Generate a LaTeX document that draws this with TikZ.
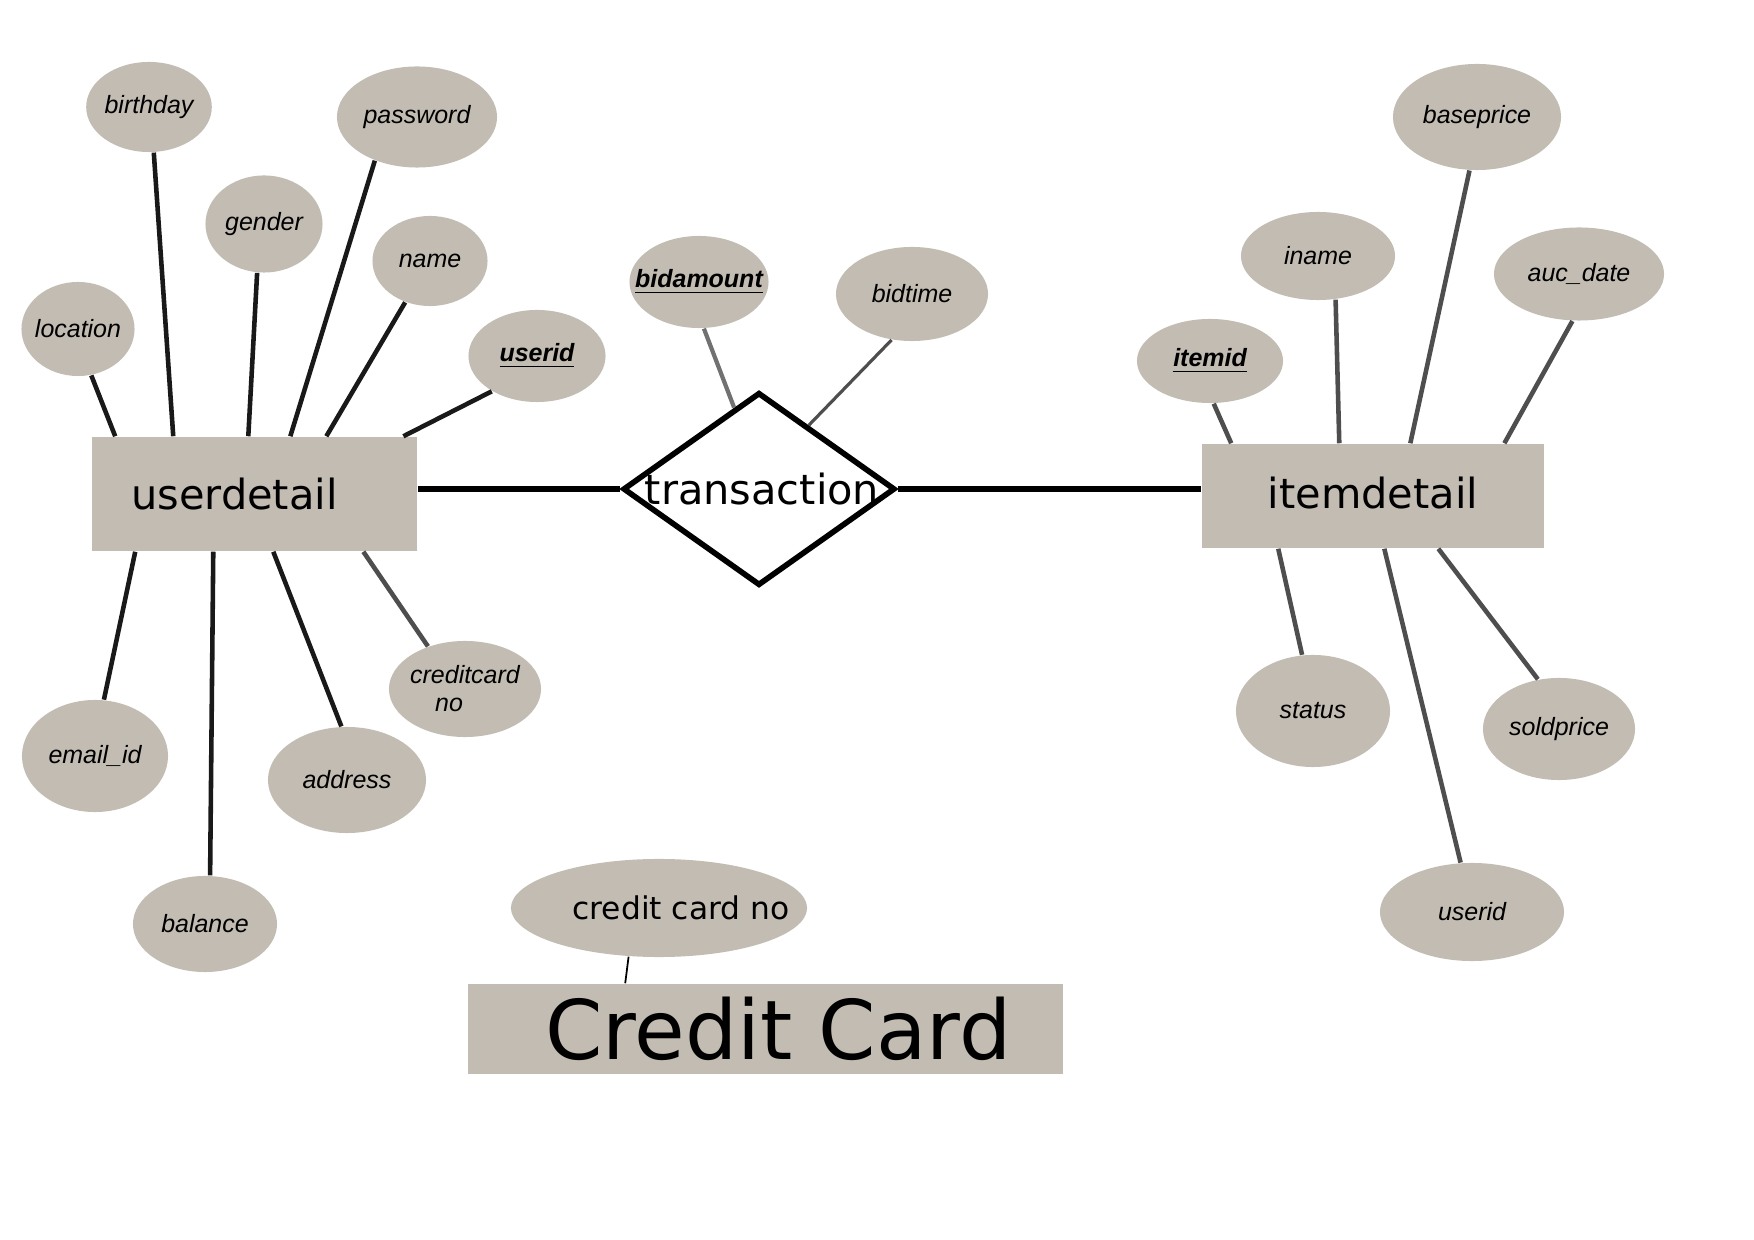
\documentclass[tikz,border=0pt]{standalone}
\usepackage{fontspec}
\setmainfont{DejaVu Sans}
\newfontfamily\attrfont{Liberation Sans}
\usepackage{tikz}
\usetikzlibrary{shapes.geometric}
\definecolor{erfill}{RGB}{194,188,178}
\definecolor{linegray}{RGB}{78,78,78}

\begin{document}
\begin{tikzpicture}[x=0.01cm, y=-0.01cm,
		entity/.style={rectangle, fill=erfill, inner sep=0pt, font=\fontsize{11.8}{14}\selectfont},
		attr/.style={ellipse, fill=erfill, inner sep=0pt, font=\attrfont\itshape\fontsize{7.1}{8.5}\selectfont},
		key/.style={font=\attrfont\bfseries\itshape\fontsize{7.1}{8.5}\selectfont},
		relation/.style={diamond, draw=black, line width=1.6pt, inner sep=0pt, minimum width=2.72cm, minimum height=1.93cm},
		link/.style={line width=1.3pt, black!90},
		glink/.style={line width=1.3pt, linegray}]
		\useasboundingbox (0,0) rectangle (1754,1240);
		% userdetail
		\node[entity, minimum width=3.25cm, minimum height=1.14cm] (userdetail) at (254.5,494) {userdetail\hspace*{0.4cm}};
		\node[attr, minimum width=1.14cm, minimum height=0.90cm] (birthday) at (149,107) {birthday};
		\node[attr, minimum width=1.60cm, minimum height=1.01cm] (password) at (417,117) {password};
		\node[attr, minimum width=1.17cm, minimum height=0.97cm] (gender) at (264,224) {gender};
		\node[attr, minimum width=1.15cm, minimum height=0.90cm] (name) at (430,261) {name};
		\node[attr, minimum width=1.13cm, minimum height=0.94cm, inner xsep=-0.05cm] (location) at (78,329) {location};
		\node[attr, key, minimum width=1.37cm, minimum height=0.92cm] (userid) at (537,356) {\underline{userid}};
		\node[attr, minimum width=1.46cm, minimum height=1.12cm] (emailid) at (95,756) {email\_id};
		\node[attr, minimum width=1.44cm, minimum height=0.96cm] (balance) at (205,924) {balance};
		\node[attr, minimum width=1.58cm, minimum height=1.06cm] (address) at (347,780) {address};
		\node[attr, minimum width=1.52cm, minimum height=0.96cm, inner xsep=-0.03cm, align=left, font=\attrfont\itshape\fontsize{7.1}{8}\selectfont] (ccno) at (465,689) {creditcard\\\hspace*{1em}no};
		\draw[link] (location.-74) -- ([xshift=0.24cm]userdetail.north west);
		\draw[link] (birthday.-84) -- ([xshift=0.82cm]userdetail.north west);
		\draw[link] (gender.-98) -- ([xshift=1.57cm]userdetail.north west);
		\draw[link] (password.-134) -- ([xshift=1.99cm]userdetail.north west);
		\draw[link] (name.-121) -- ([xshift=2.35cm]userdetail.north west);
		\draw[link] (userid.-142) -- ([xshift=3.12cm]userdetail.north west);
		\draw[link] (emailid.81) -- ([xshift=0.44cm]userdetail.south west);
		\draw[link] (balance.84) -- ([xshift=1.22cm]userdetail.south west);
		\draw[link] (address.96) -- ([xshift=1.82cm]userdetail.south west);
		\draw[glink] (ccno.131) -- ([xshift=2.72cm]userdetail.south west);
		% transaction
		\node[relation] (transaction) at (759,489) {};
		\node[font=\fontsize{11.8}{14}\selectfont, inner sep=0pt] (transtxt) at (762,489) {transaction};
		\node[attr, key, minimum width=1.39cm, minimum height=0.92cm, inner xsep=-0.16cm] (bidamount) at (699,282) {\underline{bidamount}};
		\node[attr, minimum width=1.52cm, minimum height=0.94cm] (bidtime) at (912,294) {bidtime};
		\draw[glink, line width=1.2pt, linegray!80] (bidamount.-84) -- (transaction.107);
		\draw[glink, line width=0.9pt] (bidtime.-114) -- (transaction.52);
		\draw[line width=1.6pt] (userdetail.east |- transaction.west) -- (transaction.west);
		% itemdetail
		\node[entity, minimum width=3.42cm, minimum height=1.04cm] (itemdetail) at (1373,496) {\raisebox{0.06cm}{itemdetail}};
		\node[attr, key, minimum width=1.46cm, minimum height=0.84cm] (itemid) at (1210,361) {\underline{itemid}};
		\node[attr, minimum width=1.54cm, minimum height=0.88cm] (iname) at (1318,256) {iname};
		\node[attr, minimum width=1.68cm, minimum height=1.06cm] (baseprice) at (1477,117) {baseprice};
		\node[attr, minimum width=1.70cm, minimum height=0.93cm] (aucdate) at (1579,274) {auc\_date};
		\node[attr, minimum width=1.54cm, minimum height=1.12cm] (status) at (1313,711) {status};
		\node[attr, minimum width=1.52cm, minimum height=1.02cm] (soldprice) at (1559,729) {soldprice};
		\node[attr, minimum width=1.84cm, minimum height=0.98cm] (useridb) at (1472,912) {userid};
		\draw[line width=1.6pt] (transaction.east) -- (itemdetail.west |- transaction.east);
		\draw[glink] (itemid.-85) -- ([xshift=0.30cm]itemdetail.north west);
		\draw[glink] (iname.-68) -- ([xshift=1.38cm]itemdetail.north west);
		\draw[glink] (baseprice.-98) -- ([xshift=2.09cm]itemdetail.north west);
		\draw[glink] (aucdate.-98) -- ([xshift=3.03cm]itemdetail.north west);
		\draw[glink] (status.101) -- ([xshift=0.77cm]itemdetail.south west);
		\draw[glink] (useridb.103) -- ([xshift=1.83cm]itemdetail.south west);
		\draw[glink] (soldprice.113) -- ([xshift=2.37cm]itemdetail.south west);
		% credit card
		\node[entity, minimum width=5.95cm, minimum height=0.90cm, font=\fontsize{23.4}{28}\selectfont] (creditcard) at (765.5,1029) {\hspace*{0.26cm}Credit Card};
		\node[attr, minimum width=2.96cm, minimum height=0.98cm, inner xsep=-0.4cm, font=\fontsize{8.9}{10}\selectfont] (cardno) at (659,908) {\hspace*{0.44cm}credit card no};
		\draw[line width=0.5pt] (cardno.-122) -- ([xshift=1.58cm]creditcard.north west);
\end{tikzpicture}
\end{document}
